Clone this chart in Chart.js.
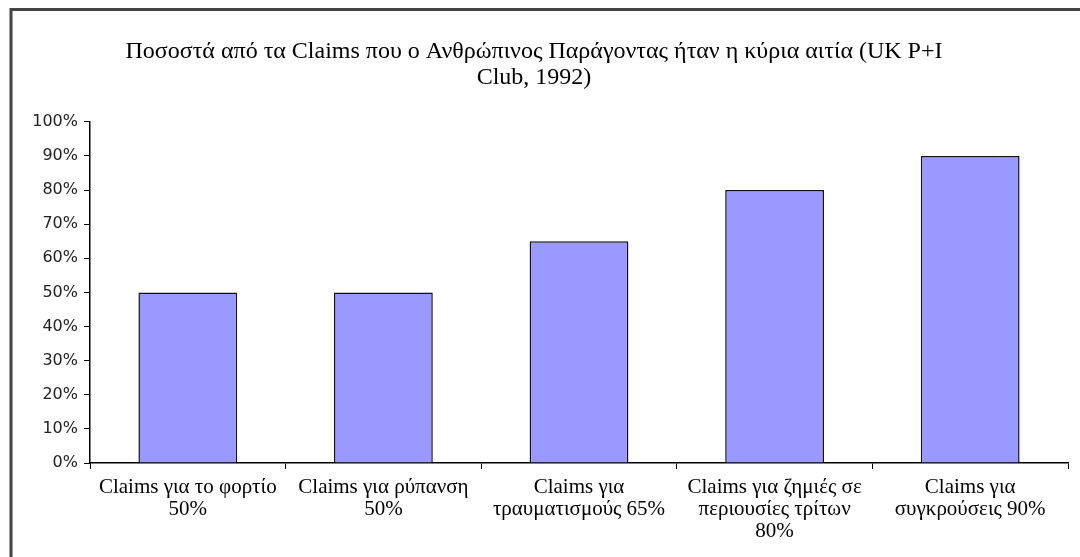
<!DOCTYPE html>
<html lang="el">
	<head>
		<meta charset="UTF-8" />
		<title>Claims - Ανθρώπινος Παράγοντας</title>
		<script src="https://cdn.jsdelivr.net/npm/chart.js"></script>
		<style>
			body {
				margin: 0;
				background: #fff;
			}
			#wrap {
				width: 1080px;
				height: 557px;
			}
		</style>
	</head>
	<body>
		<div id="wrap">
			<canvas id="claimsChart" width="1080" height="557"></canvas>
		</div>

		<script>
			const titleLines = [
				"Ποσοστά από τα Claims που ο Ανθρώπινος Παράγοντας ήταν η κύρια αιτία (UK P+I",
				"Club, 1992)",
			];
			const categories = [
				["Claims για το φορτίο", "50%"],
				["Claims για ρύπανση", "50%"],
				["Claims για", "τραυματισμούς 65%"],
				["Claims για ζημιές σε", "περιουσίες τρίτων", "80%"],
				["Claims για", "συγκρούσεις 90%"],
			];
			const percentValues = [50, 50, 65, 80, 90];
			const yTicks = [0, 10, 20, 30, 40, 50, 60, 70, 80, 90, 100];

			// frame lines (top and left only, like the scanned original)
			const framePlugin = {
				id: "frame",
				beforeDraw(chart) {
					const ctx = chart.ctx;
					ctx.save();
					ctx.fillStyle = "#ffffff";
					ctx.fillRect(0, 0, chart.width, chart.height);
					ctx.strokeStyle = "#444";
					ctx.lineWidth = 3;
					ctx.beginPath();
					ctx.moveTo(1080, 9.5);
					ctx.lineTo(11, 9.5);
					ctx.lineTo(11, 557);
					ctx.stroke();
					ctx.restore();
				},
			};

			new Chart(document.getElementById("claimsChart"), {
				type: "bar",
				data: {
					labels: categories,
					datasets: [
						{
							data: percentValues,
							backgroundColor: "#9999ff",
							borderColor: "#111",
							borderWidth: 1.5,
							barPercentage: 0.505,
							categoryPercentage: 1,
						},
					],
				},
				options: {
					responsive: false,
					animation: false,
					layout: {
						padding: { top: 39, right: 12, bottom: 0, left: 0 },
					},
					plugins: {
						legend: { display: false },
						tooltip: { enabled: false },
						title: {
							display: true,
							text: titleLines,
							color: "#000",
							font: {
								family: "'Liberation Serif', serif",
								size: 24,
								weight: "normal",
								lineHeight: 1.08,
							},
							padding: { top: 0, bottom: 31 },
						},
					},
					scales: {
						x: {
							afterFit(scale) {
								scale.height = 94;
							},
							grid: {
								drawOnChartArea: false,
								drawTicks: true,
								tickLength: 6,
								color: "#000",
								offset: true,
							},
							border: { color: "#000", width: 1.5 },
							ticks: {
								color: "#000",
								maxRotation: 0,
								autoSkip: false,
								padding: 7,
								font: {
									family: "'Liberation Serif', serif",
									size: 21,
									lineHeight: 1.05,
								},
							},
						},
						y: {
							min: 0,
							max: 100,
							afterFit(scale) {
								scale.width = 90;
							},
							afterBuildTicks(scale) {
								scale.ticks = yTicks.map((v) => ({ value: v }));
							},
							grid: {
								drawOnChartArea: false,
								drawTicks: true,
								tickLength: 6,
								color: "#000",
							},
							border: { color: "#000", width: 1.5 },
							ticks: {
								color: "#222",
								padding: 6,
								callback: (v) => v + "%",
								font: {
									family: "'DejaVu Sans', sans-serif",
									size: 16,
								},
							},
						},
					},
				},
				plugins: [framePlugin],
			});
		</script>
	</body>
</html>
